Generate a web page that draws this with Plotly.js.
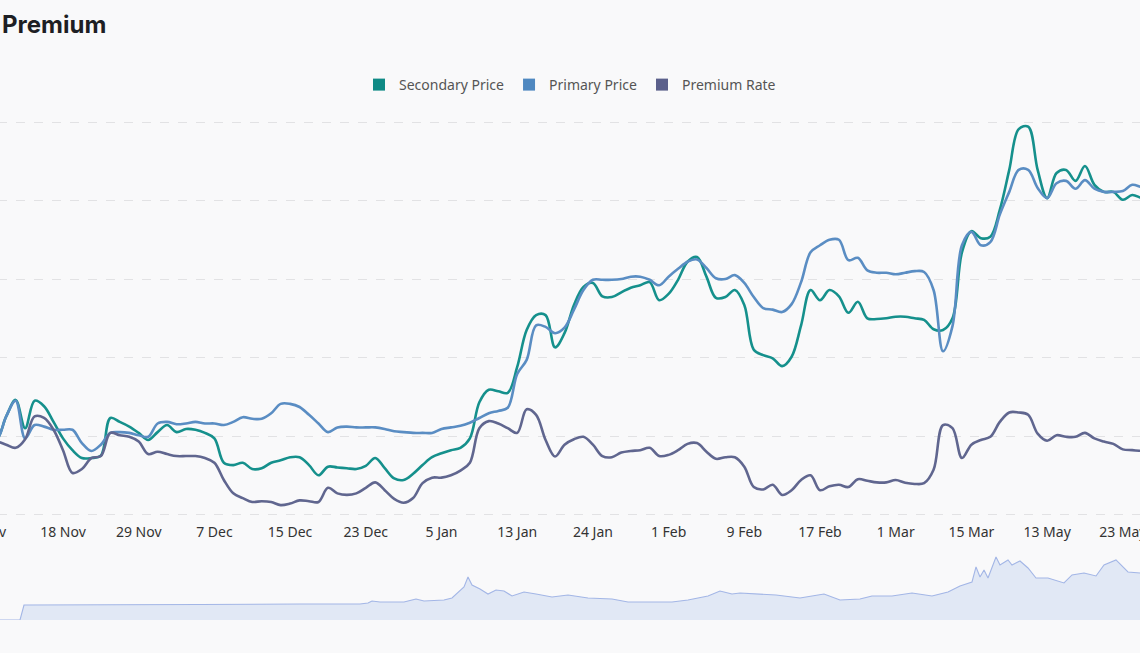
<!DOCTYPE html>
<html><head><meta charset="utf-8">
<script src="https://cdn.plot.ly/plotly-3.0.1.min.js"></script>
<style>
html,body{margin:0;padding:0;background:#f9f9fa;overflow:hidden;width:1140px;height:653px;}
#chart{position:absolute;left:-60px;top:0;width:1260px;height:653px;}
</style></head><body><div id="chart"></div>
<script>
// tick labels (one every 8 observations)
const tickLabels = ['7 Nov','18 Nov','29 Nov','7 Dec','15 Dec','23 Dec','5 Jan','13 Jan','24 Jan','1 Feb','9 Feb','17 Feb','1 Mar','15 Mar','13 May','23 May'];

const secondaryPrice = [
 0.95,0.94,0.96,1.25,1.46,1.10,1.45,1.38,1.18,0.97,
 0.82,0.72,0.72,0.75,1.23,1.18,1.12,1.04,0.95,1.05,
 1.14,1.05,1.09,1.08,1.04,0.97,0.66,0.63,0.66,0.58,
 0.59,0.66,0.69,0.73,0.73,0.63,0.50,0.61,0.60,0.59,
 0.58,0.62,0.72,0.59,0.46,0.44,0.52,0.63,0.73,0.78,
 0.82,0.85,0.97,1.43,1.59,1.57,1.55,1.88,2.35,2.54,
 2.54,2.13,2.31,2.67,2.90,2.95,2.78,2.77,2.83,2.89,
 2.92,2.96,2.73,2.81,2.99,3.22,3.28,3.03,2.76,2.77,
 2.86,2.67,2.10,2.03,1.99,1.89,2.01,2.41,2.86,2.73,
 2.86,2.78,2.57,2.71,2.50,2.49,2.50,2.52,2.52,2.50,
 2.48,2.36,2.35,2.50,3.34,3.61,3.52,3.54,3.88,4.39,
 4.91,4.94,4.39,4.03,4.35,4.39,4.25,4.44,4.20,4.11,
 4.11,4.01,4.07,4.03,4.01,4.01];

const primaryPrice = [
 0.95,0.92,0.95,1.25,1.45,0.97,1.14,1.12,1.08,1.08,
 1.08,0.91,0.81,0.89,1.04,1.05,1.04,1.01,0.99,1.16,
 1.18,1.15,1.16,1.18,1.16,1.16,1.14,1.18,1.24,1.22,
 1.22,1.29,1.41,1.41,1.37,1.27,1.16,1.05,1.11,1.12,
 1.11,1.11,1.11,1.09,1.06,1.05,1.04,1.04,1.04,1.09,
 1.11,1.13,1.17,1.23,1.29,1.32,1.36,1.79,1.97,2.41,
 2.39,2.31,2.38,2.61,2.86,2.99,2.99,2.99,3.00,3.03,
 3.03,2.99,2.92,3.03,3.13,3.22,3.25,3.14,3.01,3.00,
 3.05,2.95,2.77,2.63,2.61,2.58,2.68,2.96,3.34,3.43,
 3.50,3.50,3.24,3.27,3.11,3.08,3.08,3.06,3.08,3.10,
 3.09,2.86,2.08,2.40,3.43,3.60,3.43,3.47,3.82,4.11,
 4.39,4.39,4.16,4.03,4.22,4.25,4.15,4.26,4.15,4.11,
 4.11,4.12,4.20,4.17,4.16,4.15];

// premium rate, %
const premiumRate = [
 9.5,9.4,9.3,8.9,8.5,9.6,12.5,12.3,10.8,8.2,
 5.3,5.8,7.2,7.45,10.4,10.1,9.9,9.3,7.7,8.0,
 7.7,7.45,7.45,7.45,7.2,6.6,4.4,2.7,2.1,1.6,
 1.7,1.6,1.2,1.4,1.8,1.7,1.6,3.4,2.7,2.5,
 2.7,3.4,4.1,3.1,2.0,1.5,2.1,4.0,4.7,4.7,
 5.0,5.6,6.6,11.0,11.9,11.6,11.0,10.4,13.4,12.7,
 9.5,7.4,8.9,9.6,9.9,8.9,7.45,7.3,7.9,8.1,
 8.2,8.5,7.45,7.6,8.2,9.0,9.1,8.0,7.1,7.3,
 7.3,6.1,3.5,3.2,3.8,2.5,3.1,4.4,5.0,3.1,
 3.6,3.8,3.5,4.5,4.3,4.1,4.1,4.4,4.05,3.9,
 4.0,5.7,11.4,11.0,7.2,8.9,9.5,9.9,11.8,13.0,
 13.0,12.7,10.3,9.4,10.1,9.9,9.9,10.4,9.7,9.3,
 9.0,8.3,8.2,8.1,8.1,8.0];

// overview (full history) series for the bottom navigator
const sliderDay = [0,5,6,25,50,75,90,92,93,95,101,103,104,106,109,111,113,114,116,117,118,120,122,124,126,128,131,134,138,142,147,153,157,162,168,172,177,180,183,185,190,194,200,206,210,215,218,223,228,233,237,240,243,244,245,246,247,249,250,252,253,255,257,259,262,266,268,271,274,276,279,282,285,288];
const sliderValue = [0,0,15,15,15.5,16,16,17,19,18,18,20,21,19,19.5,20,22,26,33,43,35,31,26,30,29,24,28,26,23,25,22,21,18,18,18,20,24,29,26,27,26,25,22,26,20,21,24,24,27,24,28,34,38,53,43,50,42,63,55,60,55,59,52,42,42,37,45,47,44,55,60,48,47,46];

const idx = secondaryPrice.map((_, i) => i);
const tickVals = tickLabels.map((_, k) => 1 + k * 8);

const C_SEC = '#15908c', C_PRI = '#5a8dc3', C_RATE = '#60668f';

const traces = [
  {x: idx, y: secondaryPrice, name: 'Secondary Price', type: 'scatter', mode: 'lines',
   line: {color: C_SEC, width: 2.6, shape: 'spline', smoothing: 1}, showlegend: false, xaxis: 'x', yaxis: 'y'},
  {x: idx, y: primaryPrice, name: 'Primary Price', type: 'scatter', mode: 'lines',
   line: {color: C_PRI, width: 2.6, shape: 'spline', smoothing: 1}, showlegend: false, xaxis: 'x', yaxis: 'y'},
  {x: idx, y: premiumRate, name: 'Premium Rate', type: 'scatter', mode: 'lines',
   line: {color: C_RATE, width: 2.6, shape: 'spline', smoothing: 1}, showlegend: false, xaxis: 'x', yaxis: 'y2'},
  {x: sliderDay, y: sliderValue, type: 'scatter', mode: 'lines', fill: 'tozeroy',
   fillcolor: 'rgba(196,210,240,0.45)', line: {color: '#a3b6e6', width: 1.1},
   showlegend: false, xaxis: 'x2', yaxis: 'y3', hoverinfo: 'skip'},
  // legend entries (square swatches)
  {x: [null], y: [null], name: 'Secondary Price', type: 'scatter', mode: 'markers',
   marker: {symbol: 'square', size: 12, color: '#0f8a85'}, xaxis: 'x', yaxis: 'y'},
  {x: [null], y: [null], name: 'Primary Price', type: 'scatter', mode: 'markers',
   marker: {symbol: 'square', size: 12, color: '#4f88c0'}, xaxis: 'x', yaxis: 'y'},
  {x: [null], y: [null], name: 'Premium Rate', type: 'scatter', mode: 'markers',
   marker: {symbol: 'square', size: 12, color: '#5b608b'}, xaxis: 'x', yaxis: 'y'}
];

const layout = {
  width: 1260, height: 653,
  margin: {l: 40, r: 40, t: 110, b: 33},
  paper_bgcolor: '#f9f9fa', plot_bgcolor: '#f9f9fa',
  font: {family: 'Noto Sans, sans-serif', color: '#333', size: 14},
  title: {text: 'Premium', x: 62/1260, xref: 'container', xanchor: 'left',
          y: 1 - 25/653, yref: 'container', yanchor: 'middle',
          font: {family: 'Inter, sans-serif', size: 24, color: '#1e1f24', weight: 700}},
  showlegend: true,
  legend: {orientation: 'h', x: 0.5, xanchor: 'center', y: 1.049, yanchor: 'middle',
           font: {size: 14, color: '#555'}, bgcolor: 'rgba(0,0,0,0)', itemwidth: 30},
  xaxis: {domain: [0, 1], anchor: 'y', range: [0.23, 124.93], tickmode: 'array',
          tickvals: tickVals, ticktext: tickLabels, showgrid: false, zeroline: false,
          showline: false, ticks: '', tickfont: {size: 14, color: '#333'}, ticklabelstandoff: 6},
  yaxis: {domain: [0.2037, 1], range: [-0.02, 5.153], tick0: 0, dtick: 1, showticklabels: false,
          showgrid: true, gridcolor: '#e2e2e4', griddash: 'dash', gridwidth: 1, zeroline: false, showline: false, ticks: ''},
  yaxis2: {overlaying: 'y', range: [-0.2, 51.53], visible: false, showgrid: false},
  xaxis2: {domain: [0, 1], anchor: 'y3', range: [-5, 290], visible: false},
  yaxis3: {domain: [0, 0.1275], range: [0, 65], visible: false}
};

Plotly.newPlot('chart', traces, layout, {displayModeBar: false, staticPlot: true});
</script></body></html>
